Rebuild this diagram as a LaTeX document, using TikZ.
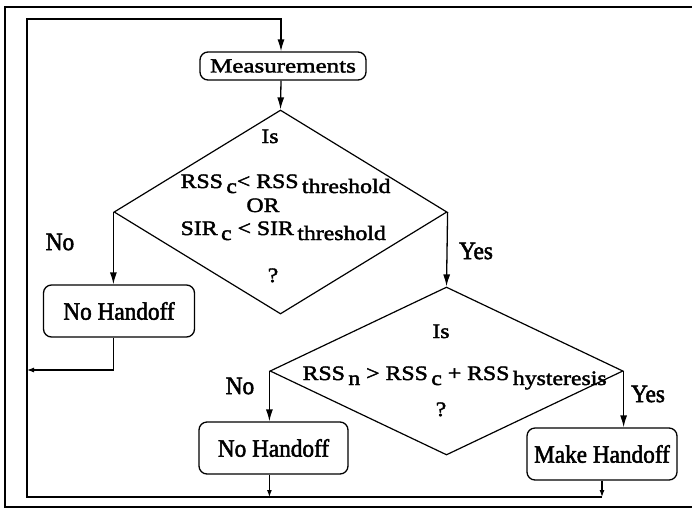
\documentclass[tikz,border=0pt]{standalone}
\usepackage{fontspec}
\setmainfont{Liberation Serif}
\newfontfamily\boxfont[FakeStretch=0.93,FakeBold=2]{Liberation Serif}
\newfontfamily\widefont[FakeStretch=1.16,FakeBold=2]{Liberation Serif}
\newfontfamily\measfont[FakeStretch=1.25,FakeBold=2]{Liberation Serif}
\usetikzlibrary{shapes.geometric,arrows.meta}
\newcommand{\lo}[1]{\,\raisebox{-5pt}{#1}}
\begin{document}
\begin{tikzpicture}[x=1pt,y=-1pt,line width=1.3pt,
  box/.style={draw,rounded corners=8pt,inner sep=0pt,font=\boxfont\fontsize{25}{27}\selectfont},
  decision/.style={draw,diamond,inner sep=0pt,line width=1.2pt},
  flow/.style={-{Latex[length=12pt,width=7pt]}},
  back/.style={-{Latex[length=7pt,width=5pt]},line width=1.1pt},
  lbl/.style={font=\boxfont\fontsize{25}{27}\selectfont,inner sep=0pt},
  dtxt/.style={font=\widefont\fontsize{20.5}{22}\selectfont,inner sep=0pt,anchor=base}]
\useasboundingbox (0,0) rectangle (692,509);

% page frame
\draw[line width=1.4pt] (692,7) -- (5,7) -- (5,507) -- (692,507);

% process boxes
\node[box,minimum width=166pt,minimum height=28pt,font=\measfont\fontsize{20}{22}\selectfont] (meas) at (283,66) {Measurements};
\node[box,minimum width=151pt,minimum height=52pt] (nh1) at (119,311) {No Handoff};
\node[box,minimum width=149pt,minimum height=52pt] (nh2) at (273.5,448) {No Handoff};
\node[box,minimum width=150pt,minimum height=52pt] (mh) at (602,454) {Make Handoff};

% decisions
\node[decision,minimum width=333pt,minimum height=204pt] (d1) at (280.5,212) {};
\node[decision,minimum width=353pt,minimum height=168pt] (d2) at (446.5,371) {};

% text of the first decision
\node[dtxt] (d1a) at (270,143) {Is};
\node[dtxt,anchor=base west] (d1b) at (180,188) {RSS\lo{c}< RSS\lo{threshold}};
\node[dtxt] (d1c) at (263,212) {OR};
\node[dtxt,anchor=base west] (d1d) at (180,235) {SIR\lo{c} < SIR\lo{threshold}};
\node[dtxt] (d1e) at (273,282) {?};

% text of the second decision
\node[dtxt] (d2a) at (441,338) {Is};
\node[dtxt,anchor=base west] (d2b) at (302,380) {RSS\lo{n} > RSS\lo{c} + RSS\lo{hysteresis}};
\node[dtxt] (d2c) at (441,416) {?};

% branch labels
\node[lbl] (no1) at (60,242) {No};
\node[lbl] (yes1) at (476,251) {Yes};
\node[lbl] (no2) at (240,386) {No};
\node[lbl] (yes2) at (648,394) {Yes};

% return path
\coordinate (lb) at (27,497);
\coordinate (lt) at (27,19);
\coordinate (lm) at (27,370);

% connectors
\draw[flow] (mh.south |- lb) -- (lb) -- (lt) -| (meas.north -| 281,0);
\draw[flow] (meas.south -| 281,0) -- (d1.north);
\draw[flow] (d1.west) -- (d1.west |- nh1.north);
\draw[flow] (d1.east) -- (d2.north);
\draw[flow] (d2.west) -- (d2.west |- nh2.north);
\draw[flow] (d2.east) -- (d2.east |- mh.north);
\draw[back] (d1.west |- nh1.south) |- (lm);
\draw[back] (d2.west |- nh2.south) -- (d2.west |- lb);
\draw[back] (mh.south) -- (mh.south |- lb);
\end{tikzpicture}
\end{document}
